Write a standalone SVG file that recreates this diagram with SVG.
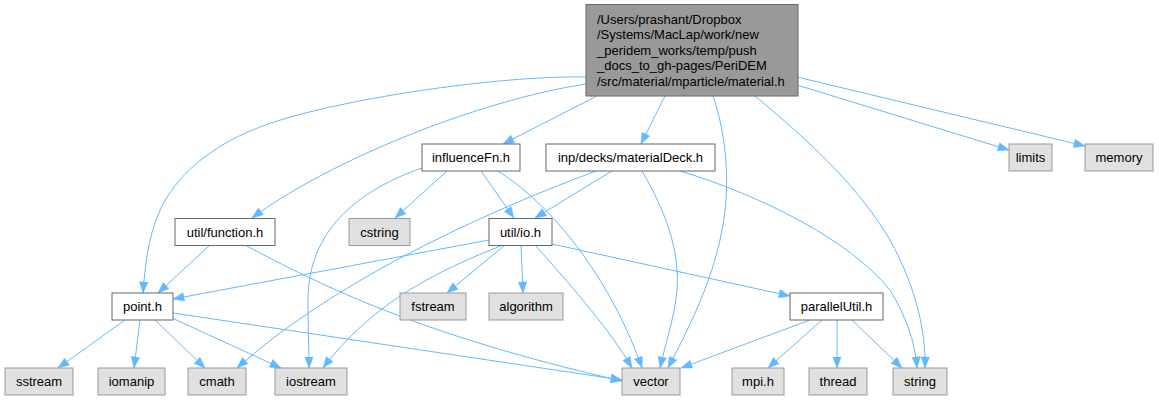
<svg xmlns="http://www.w3.org/2000/svg" width="1159" height="400" viewBox="0 0 1159 400">
<style>
text{font-family:"Liberation Sans",Arial,sans-serif;font-size:13px;fill:#000}
.c{text-anchor:middle}
.n rect{fill:#fff;stroke:#666;stroke-width:1}
.x rect{fill:#e0e0e0;stroke:#999;stroke-width:1}
.m rect{fill:#999;stroke:#666;stroke-width:1}
#edges path{fill:none;stroke:#63b8ff;stroke-width:1;marker-end:url(#ah)}
</style>
<defs>
<marker id="ah" markerUnits="userSpaceOnUse" markerWidth="12" markerHeight="10" refX="11.5" refY="5" orient="auto">
<path d="M0.5,0.8 L11.5,5 L0.5,9.2 z" fill="#63b8ff" stroke="#63b8ff" stroke-width="0.5"/>
</marker>
</defs>
<rect width="1159" height="400" fill="#fff"/>
<g id="edges">
<path d="M586,77 C500,75 330,100 260,127 C200,150 170,185 158,215 C148,240 145,265 143,293"/>
<path d="M586,84 C480,100 330,160 252,218"/>
<path d="M597,96 L503,144"/>
<path d="M665,96 L641,144"/>
<path d="M713,96 C728,140 730,190 722,230 C712,285 685,335 668,368"/>
<path d="M755,96 C820,150 860,190 890,240 C915,285 926,330 925,368"/>
<path d="M797,85 L1009,150"/>
<path d="M797,77 L1085,146"/>
<path d="M447,171 L395,218"/>
<path d="M481,171 L514,218"/>
<path d="M422,168 C345,195 308,240 308,300 C308,330 309,350 309,368"/>
<path d="M498,171 C560,210 615,290 642,368"/>
<path d="M596,171 C470,218 330,285 237,368"/>
<path d="M612,171 L535,218"/>
<path d="M642,171 C665,210 680,250 677,290 C674,320 665,345 660,368"/>
<path d="M680,171 C760,195 850,240 890,290 C905,315 915,340 917,368"/>
<path d="M210,245 L158,293"/>
<path d="M245,245 C320,285 420,335 622,381"/>
<path d="M489,240 L173,299"/>
<path d="M505,245 L447,293"/>
<path d="M521,245 L523,293"/>
<path d="M503,245 C440,270 375,300 323,368"/>
<path d="M535,245 C575,290 610,330 632,368"/>
<path d="M552,244 L790,296"/>
<path d="M125,320 L58,368"/>
<path d="M140,320 L134,368"/>
<path d="M155,320 L205,368"/>
<path d="M172,318 L281,368"/>
<path d="M173,313 L622,380"/>
<path d="M810,320 L681,368"/>
<path d="M822,320 L768,368"/>
<path d="M837,320 L837,368"/>
<path d="M852,320 L902,368"/>
</g>
<g id="node-material" class="m">
<rect x="586" y="4.5" width="212" height="91.5"/>
<text x="597" y="23.6">/Users/prashant/Dropbox</text>
<text x="597" y="39.2">/Systems/MacLap/work/new</text>
<text x="597" y="54.8">_peridem_works/temp/push</text>
<text x="597" y="70.4">_docs_to_gh-pages/PeriDEM</text>
<text x="597" y="86">/src/material/mparticle/material.h</text>
</g>
<g id="node-influenceFn" class="n"><rect x="422" y="144" width="98" height="27"/><text class="c" x="471" y="162">influenceFn.h</text></g>
<g id="node-materialDeck" class="n"><rect x="546" y="144" width="169" height="27"/><text class="c" x="630.5" y="162">inp/decks/materialDeck.h</text></g>
<g id="node-limits" class="x"><rect x="1009" y="144" width="43" height="27"/><text class="c" x="1030.5" y="162">limits</text></g>
<g id="node-memory" class="x"><rect x="1085" y="144" width="68" height="27"/><text class="c" x="1119" y="162">memory</text></g>
<g id="node-function" class="n"><rect x="175" y="218.5" width="100" height="27"/><text class="c" x="225" y="236.5">util/function.h</text></g>
<g id="node-cstring" class="x"><rect x="349" y="218.5" width="61" height="27"/><text class="c" x="379.5" y="236.5">cstring</text></g>
<g id="node-io" class="n"><rect x="489" y="218.5" width="63" height="27"/><text class="c" x="520.5" y="236.5">util/io.h</text></g>
<g id="node-point" class="n"><rect x="112" y="293" width="61" height="27"/><text class="c" x="142.5" y="311">point.h</text></g>
<g id="node-fstream" class="x"><rect x="400" y="293" width="66" height="27"/><text class="c" x="433" y="311">fstream</text></g>
<g id="node-algorithm" class="x"><rect x="489" y="293" width="74" height="27"/><text class="c" x="526" y="311">algorithm</text></g>
<g id="node-parallelUtil" class="n"><rect x="790" y="293" width="93" height="27"/><text class="c" x="836.5" y="311">parallelUtil.h</text></g>
<g id="node-sstream" class="x"><rect x="5" y="368" width="68" height="27"/><text class="c" x="39" y="386">sstream</text></g>
<g id="node-iomanip" class="x"><rect x="98" y="368" width="67" height="27"/><text class="c" x="131.5" y="386">iomanip</text></g>
<g id="node-cmath" class="x"><rect x="188" y="368" width="58" height="27"/><text class="c" x="217" y="386">cmath</text></g>
<g id="node-iostream" class="x"><rect x="275" y="368" width="72" height="27"/><text class="c" x="311" y="386">iostream</text></g>
<g id="node-vector" class="x"><rect x="622" y="368" width="58" height="27"/><text class="c" x="651" y="386">vector</text></g>
<g id="node-mpi" class="x"><rect x="732" y="368" width="52" height="27"/><text class="c" x="758" y="386">mpi.h</text></g>
<g id="node-thread" class="x"><rect x="809" y="368" width="58" height="27"/><text class="c" x="838" y="386">thread</text></g>
<g id="node-string" class="x"><rect x="893" y="368" width="54" height="27"/><text class="c" x="920" y="386">string</text></g>
</svg>
